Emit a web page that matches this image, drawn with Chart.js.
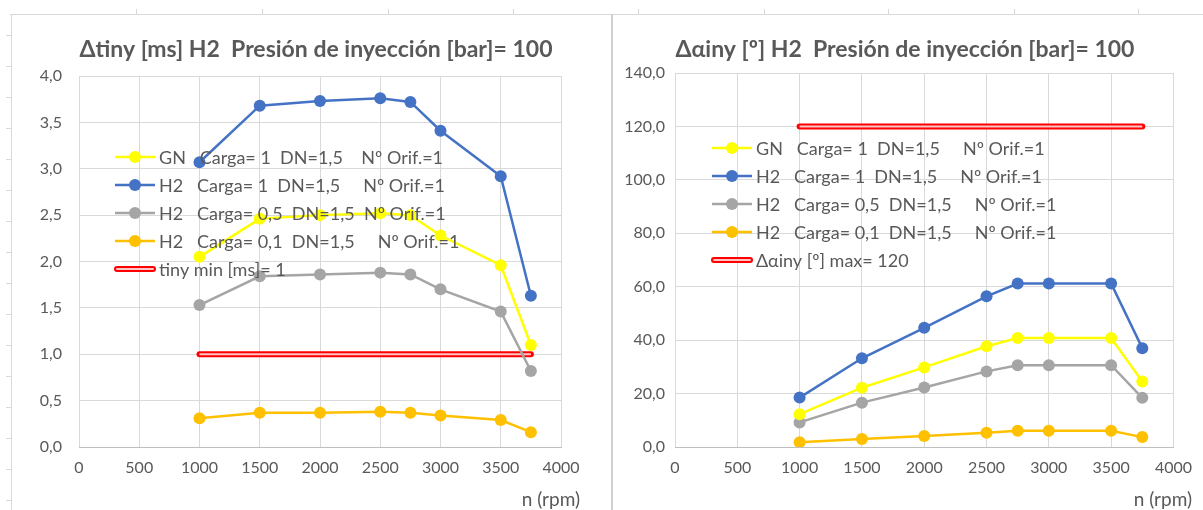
<!DOCTYPE html>
<html>
<head>
<meta charset="utf-8">
<title>Δtiny / Δαiny H2</title>
<script src="https://cdn.jsdelivr.net/npm/chart.js@4.4.1/dist/chart.umd.min.js"></script>
<style>
    body { margin: 0; background: #fff; width: 1203px; height: 510px; overflow: hidden; position: relative; }
    .line { position: absolute; background: #d9d9d9; }
    .box { position: absolute; }
</style>
</head>
<body>
<div class="line" style="left:10px; top:14px; width:1193px; height:1px;"></div>
<div class="line" style="left:11px; top:14px; width:1px; height:496px;"></div>
<div class="line" style="left:611px; top:14px; width:2px; height:496px; background:#d0d0d0;"></div>
<div id="ticks"></div>

<div class="box" style="left:12px; top:15px;"><canvas id="tiny_chart" width="598" height="495"></canvas></div>
<div class="box" style="left:614px; top:15px;"><canvas id="alpha_chart" width="589" height="495"></canvas></div>

<script>
// régimen de giro (rpm)
const rpm = [1000, 1500, 2000, 2500, 2750, 3000, 3500, 3750];

// Δtiny [ms]
const tiny_gn_c1 = [2.05, 2.46, 2.50, 2.52, 2.50, 2.28, 1.96, 1.10];
const tiny_h2_c1 = [3.07, 3.68, 3.73, 3.76, 3.72, 3.41, 2.92, 1.63];
const tiny_h2_c05 = [1.53, 1.84, 1.86, 1.88, 1.86, 1.70, 1.46, 0.82];
const tiny_h2_c01 = [0.31, 0.37, 0.37, 0.38, 0.37, 0.34, 0.29, 0.16];
const tiny_min = 1;

// Δαiny [º]
const alpha_gn_c1 = [12.3, 22.2, 29.8, 37.7, 40.8, 40.8, 40.8, 24.5];
const alpha_h2_c1 = [18.5, 33.2, 44.6, 56.4, 61.2, 61.2, 61.2, 37.0];
const alpha_h2_c05 = [9.2, 16.6, 22.3, 28.3, 30.6, 30.6, 30.6, 18.4];
const alpha_h2_c01 = [1.8, 3.0, 4.1, 5.3, 6.1, 6.1, 6.1, 3.7];
const alpha_max = 120;

const limit_rpm = [1000, 3750];

const tiny_labels = [
    "GN   Carga= 1  DN=1,5    Nº Orif.=1",
    "H2   Carga= 1  DN=1,5     Nº Orif.=1",
    "H2   Carga= 0,5  DN=1,5  Nº Orif.=1",
    "H2   Carga= 0,1  DN=1,5     Nº Orif.=1",
    "tiny min [ms]= 1",
];
const alpha_labels = [
    "GN   Carga= 1  DN=1,5     Nº Orif.=1",
    "H2   Carga= 1  DN=1,5     Nº Orif.=1",
    "H2   Carga= 0,5  DN=1,5     Nº Orif.=1",
    "H2   Carga= 0,1  DN=1,5     Nº Orif.=1",
    "Δαiny [º] max= 120",
];

const COLORS = ["#ffff00", "#4472c4", "#a5a5a5", "#ffc000"];
const TEXT = "#595959";
const FONT = "Lato";

// marcas de la hoja de cálculo en los bordes
const tick_box = document.getElementById("ticks");
[136, 262, 388, 513, 638, 764, 888, 1014, 1138].forEach((x) => {
    tick_box.innerHTML += `<div class="line" style="left:${x}px; top:9px; width:1px; height:5px;"></div>`;
});
for (let y = 35; y < 510; y += 31) {
    tick_box.innerHTML += `<div class="line" style="left:6px; top:${y}px; width:5px; height:1px;"></div>`;
}

const toPoints = (values) => values.map((v, i) => ({ x: rpm[i], y: v }));
const limitPoints = (v) => limit_rpm.map((x) => ({ x: x, y: v }));

const seriesDataset = (label, values, color) => ({
    label: label,
    data: toPoints(values),
    borderColor: color,
    backgroundColor: color,
    borderWidth: 2.5,
    pointRadius: 6,
    pointHoverRadius: 6,
    pointBorderWidth: 0,
});

const limitDatasets = (label, value) => [
    {
        label: label,
        data: limitPoints(value),
        borderColor: "#ff0000",
        borderWidth: 6,
        pointRadius: 0,
        borderCapStyle: "round",
        limit: true,
    },
    {
        label: "",
        data: limitPoints(value),
        borderColor: "#ffc4c4",
        borderWidth: 2,
        pointRadius: 0,
        hideLegend: true,
    },
];

// textos y leyenda dibujados dentro del lienzo
const chartTexts = {
    id: "chartTexts",
    afterDatasetsDraw(chart, args, opts) {
        const { ctx, chartArea } = chart;
        ctx.save();
        ctx.fillStyle = TEXT;
        ctx.textBaseline = "middle";

        ctx.font = `bold 23px ${FONT}`;
        ctx.textAlign = "center";
        ctx.fillText(opts.title, opts.titleX, opts.titleY);

        ctx.font = `19px ${FONT}`;
        ctx.textAlign = "right";
        ctx.fillText("n (rpm)", opts.axisX, opts.axisY);

        ctx.font = `18px ${FONT}`;
        ctx.textAlign = "left";
        let row = 0;
        chart.data.datasets.forEach((ds) => {
            if (ds.hideLegend) return;
            const x = chartArea.left + opts.legendX;
            const y = chartArea.top + opts.legendY + row * 28;
            if (ds.limit) {
                ctx.lineCap = "round";
                ctx.strokeStyle = "#ff0000";
                ctx.lineWidth = 6;
                ctx.beginPath();
                ctx.moveTo(x + 2, y);
                ctx.lineTo(x + 38, y);
                ctx.stroke();
                ctx.strokeStyle = "#ffc4c4";
                ctx.lineWidth = 2;
                ctx.beginPath();
                ctx.moveTo(x + 2, y);
                ctx.lineTo(x + 38, y);
                ctx.stroke();
            } else {
                ctx.strokeStyle = ds.borderColor;
                ctx.lineWidth = 2.5;
                ctx.beginPath();
                ctx.moveTo(x, y);
                ctx.lineTo(x + 40, y);
                ctx.stroke();
                ctx.fillStyle = ds.borderColor;
                ctx.beginPath();
                ctx.arc(x + 20, y, 6, 0, Math.PI * 2);
                ctx.fill();
            }
            ctx.fillStyle = TEXT;
            ctx.fillText(ds.label, x + 44, y + 1);
            row++;
        });
        ctx.restore();
    },
};

const makeChart = (id, datasets, yMax, yStep, yWidth, yPad, layout, texts) => {
    return new Chart(document.getElementById(id), {
        type: "line",
        data: { datasets: datasets },
        options: {
            responsive: false,
            animation: false,
            layout: { padding: layout },
            scales: {
                x: {
                    type: "linear",
                    min: 0,
                    max: 4000,
                    grid: { color: "#d9d9d9", drawTicks: false },
                    border: { color: "#bfbfbf" },
                    ticks: {
                        stepSize: 500,
                        padding: 11,
                        color: TEXT,
                        font: { family: FONT, size: 16 },
                        maxRotation: 0,
                        callback: (value) => String(value),
                    },
                    afterFit: (scale) => { scale.height = 63; },
                },
                y: {
                    min: 0,
                    max: yMax,
                    grid: { color: "#d9d9d9", drawTicks: false },
                    border: { display: false },
                    ticks: {
                        stepSize: yStep,
                        padding: yPad,
                        color: TEXT,
                        font: { family: FONT, size: 16 },
                        callback: (value) => value.toFixed(1).replace(".", ","),
                    },
                    afterFit: (scale) => { scale.width = yWidth; },
                },
            },
            plugins: {
                legend: { display: false },
                tooltip: { enabled: false },
                chartTexts: texts,
            },
        },
        plugins: [chartTexts],
    });
};

document.addEventListener("DOMContentLoaded", () => {
    makeChart(
        "tiny_chart",
        [
            ...limitDatasets(tiny_labels[4], tiny_min),
            seriesDataset(tiny_labels[3], tiny_h2_c01, COLORS[3]),
            seriesDataset(tiny_labels[2], tiny_h2_c05, COLORS[2]),
            seriesDataset(tiny_labels[1], tiny_h2_c1, COLORS[1]),
            seriesDataset(tiny_labels[0], tiny_gn_c1, COLORS[0]),
        ].reverse(),
        4, 0.5, 67, 17,
        { top: 61, right: 49 },
        {
            title: "Δtiny [ms] H2  Presión de inyección [bar]= 100",
            titleX: 304, titleY: 35,
            axisX: 568, axisY: 485,
            legendX: 36, legendY: 81,
        }
    );

    makeChart(
        "alpha_chart",
        [
            ...limitDatasets(alpha_labels[4], alpha_max),
            seriesDataset(alpha_labels[3], alpha_h2_c01, COLORS[3]),
            seriesDataset(alpha_labels[2], alpha_h2_c05, COLORS[2]),
            seriesDataset(alpha_labels[1], alpha_h2_c1, COLORS[1]),
            seriesDataset(alpha_labels[0], alpha_gn_c1, COLORS[0]),
        ].reverse(),
        140, 20, 61, 10,
        { top: 58, right: 26 },
        {
            title: "Δαiny [º] H2  Presión de inyección [bar]= 100",
            titleX: 291, titleY: 35,
            axisX: 578, axisY: 485,
            legendX: 37, legendY: 75,
        }
    );
});
</script>
</body>
</html>
